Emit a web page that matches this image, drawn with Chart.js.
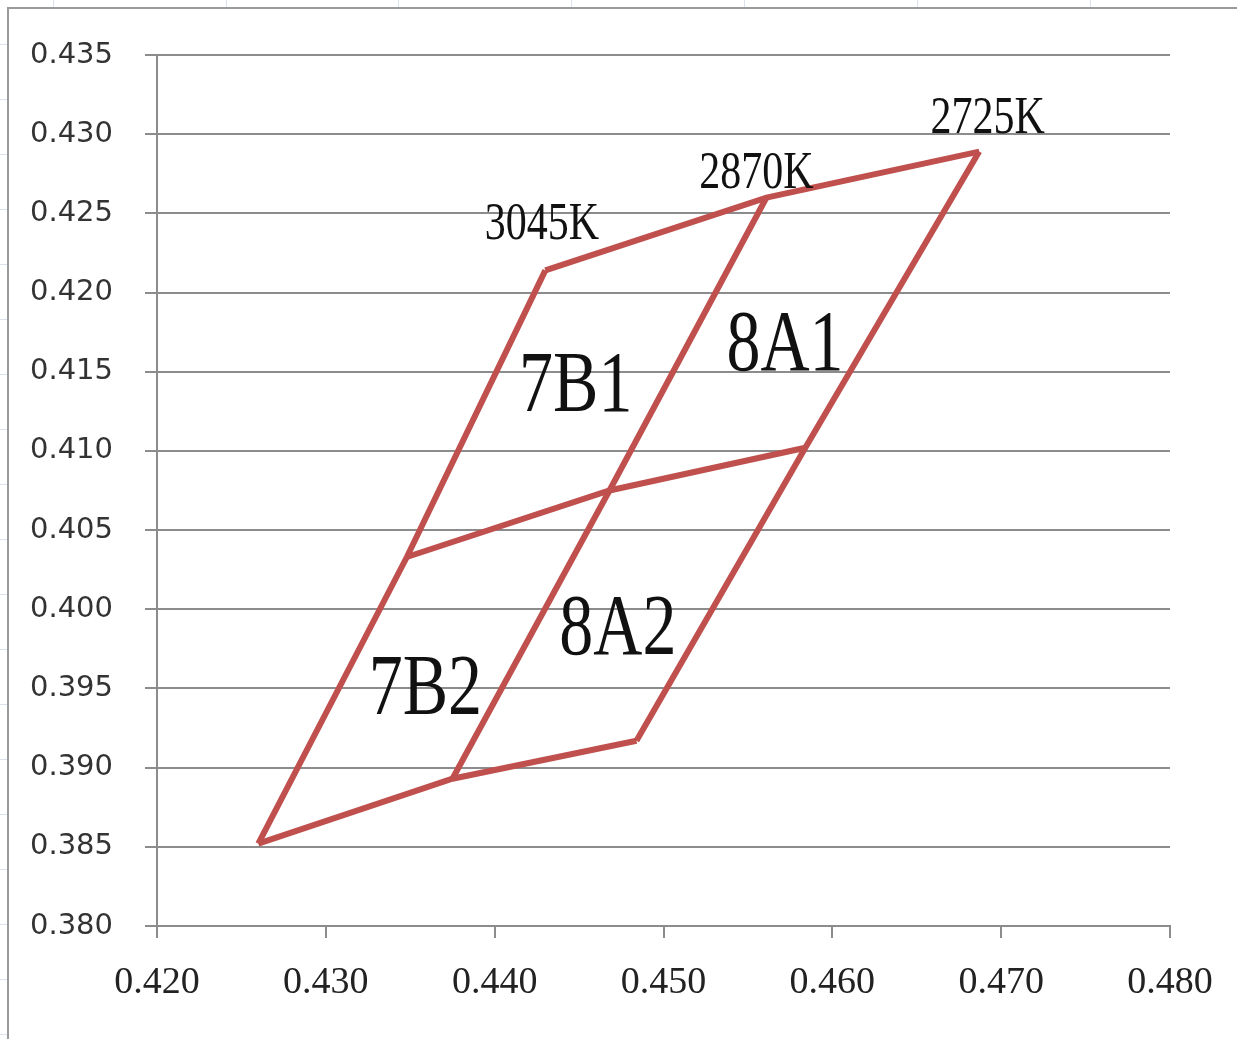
<!DOCTYPE html>
<html>
<head>
<meta charset="utf-8">
<script src="https://cdn.jsdelivr.net/npm/chart.js@4/dist/chart.umd.min.js"></script>
<style>
  body { margin: 0; background: #fff; }
</style>
</head>
<body>
<canvas id="chart" width="1237" height="1039"></canvas>
<script>
// grid nodes (x, y chromaticity)
var bottomX = [0.4260, 0.4375, 0.4484];
var bottomY = [0.3852, 0.3893, 0.3917];
var middleX = [0.4348, 0.4468, 0.4584];
var middleY = [0.4033, 0.4075, 0.4102];
var topX = [0.4430, 0.4561, 0.4687];
var topY = [0.4214, 0.4260, 0.4289];

var cctLabels = ["3045K", "2870K", "2725K"];
var cctX = [0.4428, 0.4555, 0.4692];
var cctY = [0.4234, 0.4266, 0.4301];

var binLabels = ["7B1", "8A1", "7B2", "8A2"];
var binX = [0.4448, 0.4572, 0.4359, 0.4473];
var binY = [0.4125, 0.4151, 0.3934, 0.3972];

var xTicks = [0.420, 0.430, 0.440, 0.450, 0.460, 0.470, 0.480];
var yTicks = [0.380, 0.385, 0.390, 0.395, 0.400, 0.405, 0.410, 0.415, 0.420, 0.425, 0.430, 0.435];

var red = "#c0504d";
var gridGrey = "#8c8c8c";

function pts(xs, ys) {
  return xs.map(function (x, i) { return { x: x, y: ys[i] }; });
}

var rows = [pts(bottomX, bottomY), pts(middleX, middleY), pts(topX, topY)];
var cols = [0, 1, 2].map(function (c) {
  return [rows[0][c], rows[1][c], rows[2][c]];
});

var datasets = rows.concat(cols).map(function (d) {
  return {
    data: d,
    showLine: true,
    borderColor: red,
    borderWidth: 6,
    pointRadius: 0,
    fill: false,
    tension: 0
  };
});

// excel sheet cells + the chart frame
var frame = {
  id: "frame",
  beforeDraw: function (chart) {
    var ctx = chart.ctx;
    ctx.save();
    ctx.fillStyle = "#fff";
    ctx.fillRect(0, 0, chart.width, chart.height);
    ctx.strokeStyle = "#dde3ee";
    ctx.lineWidth = 1;
    [53, 226, 398, 571, 744, 917, 1090].forEach(function (x) {
      ctx.beginPath(); ctx.moveTo(x + 0.5, 0); ctx.lineTo(x + 0.5, 8); ctx.stroke();
    });
    for (var y = 44; y < chart.height; y += 55) {
      ctx.beginPath(); ctx.moveTo(0, y + 0.5); ctx.lineTo(7, y + 0.5); ctx.stroke();
    }
    ctx.strokeStyle = "#9a9a9a";
    ctx.lineWidth = 2;
    ctx.beginPath();
    ctx.moveTo(chart.width, 8);
    ctx.lineTo(8, 8);
    ctx.lineTo(8, chart.height);
    ctx.stroke();
    ctx.restore();
  }
};

function drawText(ctx, txt, x, y, size, stretch) {
  ctx.save();
  ctx.translate(x, y);
  ctx.scale(1, stretch);
  ctx.font = size + "px 'Liberation Serif', serif";
  ctx.textAlign = "center";
  ctx.textBaseline = "alphabetic";
  ctx.fillText(txt, 0, 0);
  ctx.restore();
}

var labels = {
  id: "labels",
  afterDatasetsDraw: function (chart) {
    var ctx = chart.ctx;
    var xs = chart.scales.x, ys = chart.scales.y;
    ctx.fillStyle = "#111";
    cctLabels.forEach(function (t, i) {
      drawText(ctx, t, xs.getPixelForValue(cctX[i]), ys.getPixelForValue(cctY[i]), 42, 1.25);
    });
    binLabels.forEach(function (t, i) {
      drawText(ctx, t, xs.getPixelForValue(binX[i]), ys.getPixelForValue(binY[i]), 68, 1.28);
    });
  }
};

new Chart("chart", {
  type: "scatter",
  data: { datasets: datasets },
  options: {
    responsive: false,
    animation: false,
    devicePixelRatio: 1,
    layout: { padding: { top: 55, right: 67, left: 0, bottom: 0 } },
    plugins: { legend: { display: false }, tooltip: { enabled: false } },
    scales: {
      x: {
        type: "linear",
        min: 0.42,
        max: 0.48,
        afterBuildTicks: function (axis) {
          axis.ticks = xTicks.map(function (v) { return { value: v }; });
        },
        afterFit: function (axis) { axis.height = 113; },
        grid: { drawOnChartArea: false, drawTicks: true, tickLength: 12, color: gridGrey, lineWidth: 2 },
        border: { color: gridGrey, width: 2 },
        ticks: {
          padding: 22,
          color: "#222",
          font: { family: "'Liberation Serif', serif", size: 38 },
          callback: function (v) { return v.toFixed(3); }
        }
      },
      y: {
        type: "linear",
        min: 0.38,
        max: 0.435,
        afterBuildTicks: function (axis) {
          axis.ticks = yTicks.map(function (v) { return { value: v }; });
        },
        afterFit: function (axis) { axis.width = 157; },
        grid: { drawTicks: true, tickLength: 12, color: gridGrey, lineWidth: 2 },
        border: { color: gridGrey, width: 2 },
        ticks: {
          padding: 32,
          color: "#333",
          font: { family: "'DejaVu Sans', sans-serif", size: 29 },
          callback: function (v) { return v.toFixed(3); }
        }
      }
    }
  },
  plugins: [frame, labels]
});
</script>
</body>
</html>
